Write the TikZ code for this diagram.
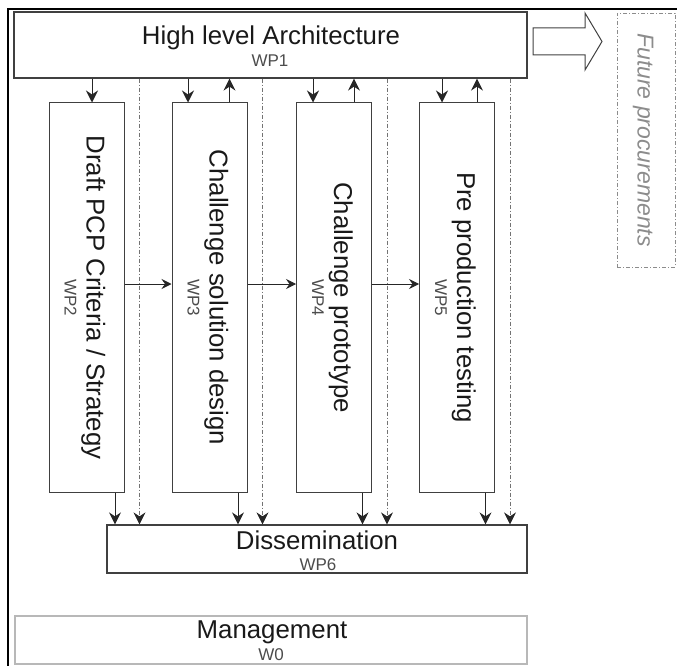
\documentclass[tikz,border=0pt]{standalone}
\usepackage{fontspec}
\setmainfont{Liberation Sans}
\usetikzlibrary{arrows.meta,positioning}
\definecolor{boxline}{gray}{0.25}
\definecolor{wpgray}{gray}{0.3}
\definecolor{futgray}{gray}{0.55}
\definecolor{mgmtgray}{gray}{0.72}
\newcommand{\bigfont}{\fontsize{25.8}{30}\selectfont}
\newcommand{\wpfont}{\fontsize{17}{20}\selectfont}
\begin{document}
\begin{tikzpicture}[x=1pt,y=-1pt,
  box/.style={draw=boxline,line width=1pt,inner sep=0pt},
  big/.style={font=\bigfont,text=black!90,inner sep=0pt,anchor=base},
  wp/.style={font=\wpfont,text=wpgray,inner sep=0pt,anchor=base},
  arr/.style={-{Stealth[length=12pt,width=12pt,inset=4pt]},line width=1pt,draw=black!85},
  harr/.style={-{Stealth[length=10pt,width=10pt,inset=3.5pt]},line width=0.8pt,draw=black!85},
  dotarr/.style={-{Stealth[length=12pt,width=12pt,inset=4pt,fill=black!85,color=black!85]},draw=black!55,line width=0.8pt,dash pattern=on 4pt off 2pt on 1pt off 2pt}]
    \useasboundingbox (0,0) rectangle (677,666);
    \draw[line width=2pt] (7.5,666) -- (7.5,9) -- (677,9);
    \node[box,line width=1.2pt,minimum width=513pt,minimum height=66pt] (hla) at (270.5,45) {};
    \node[big] at (271,45) {High level Architecture};
    \node[wp] at (270,67) {WP1};
    \draw[boxline,line width=1pt] (533,28) -- (585,28) -- (585,13) -- (602,41.5) -- (585,70) -- (585,55) -- (533,55) -- cycle;
    \node[draw=futgray,line width=0.8pt,dash pattern=on 4pt off 2pt on 1pt off 2pt,minimum width=58pt,minimum height=254pt] (fut) at (646,140) {};
    \node[font=\fontsize{23}{28}\selectfont\itshape,text=futgray,inner sep=0pt,rotate=-90,anchor=base] at (637.5,140) {Future procurements};
    \foreach \i/\cx/\txt in {2/86.5/{Draft PCP Criteria / Strategy},3/209.5/{Challenge solution design},4/334/{Challenge prototype},5/457/{Pre production testing}}
    {
      \node[box,minimum width=75pt,minimum height=389pt] (wp\i) at (\cx,297.5) {};
      \node[big,rotate=-90] at (\cx,297.5) {\txt};
      \node[wp,rotate=-90] at (\cx-22,297.5) {WP\i};
    }
    \node[box,line width=1.2pt,minimum width=420pt,minimum height=48pt] (dis) at (317,549) {};
    \node[big] at (317,549) {Dissemination};
    \node[wp] at (318,570) {WP6};
    \node[draw=mgmtgray,line width=1.5pt,inner sep=0pt,minimum width=512pt,minimum height=48pt] (mgmt) at (271,640) {};
    \node[big] at (272,638) {Management};
    \node[wp] at (271,660) {W0};
    \foreach \i/\dx in {2/5.5,3/-21.5,4/-21,5/-15}
    {
      \coordinate (t\i) at ([xshift=\dx pt]wp\i.north);
      \draw[arr] (t\i |- hla.south) -- (t\i);
    }
    \foreach \i in {3,4,5}
    {
      \coordinate (u\i) at ([xshift=20pt]wp\i.north);
      \draw[arr] (u\i) -- (u\i |- hla.south);
    }
    \foreach \i in {2,3,4,5}
    {
      \coordinate (d\i) at ([xshift=28.5pt]wp\i.south);
      \draw[arr] (d\i) -- (d\i |- dis.north);
      \coordinate (p\i) at ([xshift=53pt]wp\i.south);
      \draw[dotarr] (p\i |- hla.south) -- (p\i |- dis.north);
    }
    \foreach \a/\b in {2/3,3/4,4/5}
    {
      \draw[harr] ([yshift=13.5pt]wp\a.east) -- ([yshift=13.5pt]wp\b.west);
    }
\end{tikzpicture}
\end{document}
